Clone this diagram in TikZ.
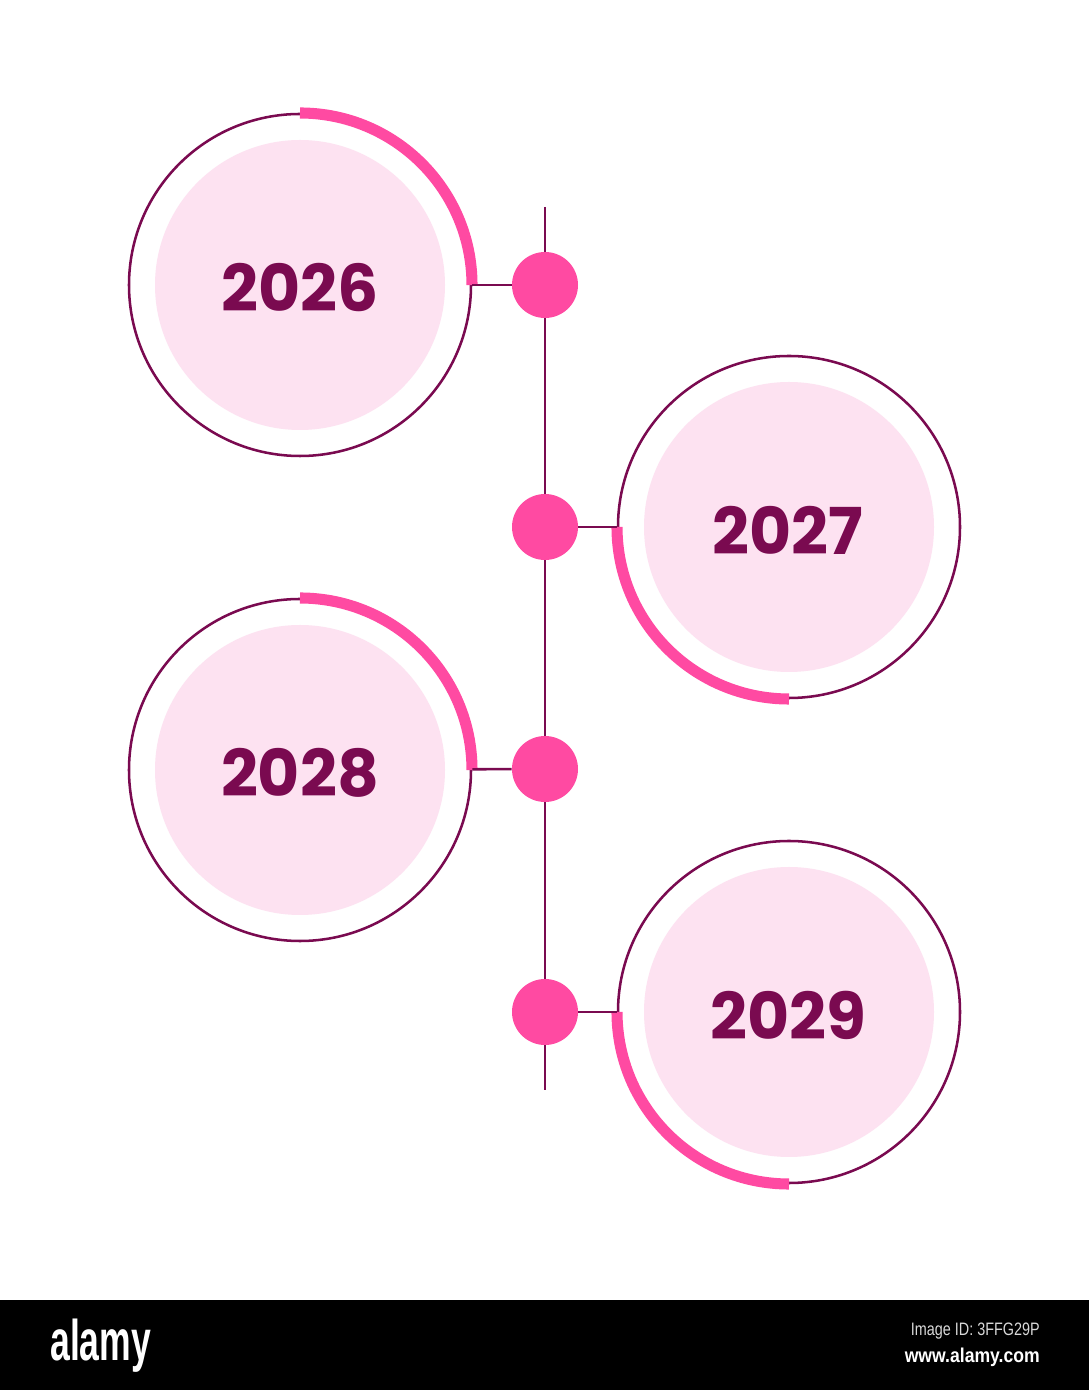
\documentclass[tikz,border=0pt]{standalone}
\usepackage{fontspec}
\setmainfont{Poppins}
\newfontfamily\logofont{Liberation Sans}
\definecolor{plum}{HTML}{7A0A50}
\definecolor{hotpink}{HTML}{FF4AA2}
\definecolor{blush}{HTML}{FDE2F1}
\begin{document}
\begin{tikzpicture}[x=0.75pt,y=0.75pt,
  ring/.style={circle, draw=plum, line width=1.9pt, minimum size=256.5pt, inner sep=0pt},
  disk/.style={circle, fill=blush, minimum size=217.5pt, inner sep=0pt},
  year/.style={text=plum, inner sep=0pt, font=\fontsize{48.5}{48.5}\selectfont\bfseries},
  dot/.style={circle, fill=hotpink, minimum size=49.5pt, inner sep=0pt},
  wire/.style={draw=plum, line width=1.9pt},
  accent/.style={draw=hotpink, line width=8.3pt, line cap=butt}
]
\useasboundingbox (0,0) rectangle (1089,1390);
\fill[white] (0,0) rectangle (1089,1390);

% timeline
\coordinate (top) at (545,1183);
\coordinate (bot) at (545,300);
\draw[wire] (top) -- (bot);

% rings
\node[ring] (r1) at (300,1105) {};
\node[ring] (r2) at (789,863) {};
\node[ring] (r3) at (300,620) {};
\node[ring] (r4) at (789,378) {};

\node[disk] (d1) at (300,1105) {};
\node[disk] (d2) at (789,863) {};
\node[disk] (d3) at (300,620) {};
\node[disk] (d4) at (789,378) {};

\node[year] (y1) at (300,1102) {2026};
\node[year] (y2) at (788,860) {2027};
\node[year] (y3) at (300,617) {2028};
\node[year] (y4) at (788,375) {2029};

% accent arcs
\draw[accent] (r1.center) ++(90:172) arc[start angle=90, end angle=0, radius=172];
\draw[accent] (r2.center) ++(180:172) arc[start angle=180, end angle=270, radius=172];
\draw[accent] (r3.center) ++(90:172) arc[start angle=90, end angle=0, radius=172];
\draw[accent] (r4.center) ++(180:172) arc[start angle=180, end angle=270, radius=172];

% dots
\node[dot] (p1) at (545,1105) {};
\node[dot] (p2) at (545,863) {};
\node[dot] (p3) at (545,621) {};
\node[dot] (p4) at (545,378) {};

% connectors
\draw[wire] (p1) -- (r1);
\draw[wire] (p2) -- (r2);
\draw[wire] (p3) -- (r3);
\draw[wire] (p4) -- (r4);

% bottom bar
\fill[black] (0,0) rectangle (1089,90);
\node[anchor=base west, inner sep=0pt, text=white] (logo) at (50,30)
  {\scalebox{0.62}[1]{\logofont\fontsize{43}{43}\selectfont\bfseries alamy}};
\node[anchor=east, inner sep=0pt, text=white!85!black] (imgid) at (1040,59)
  {\scalebox{0.8}[1]{\logofont\fontsize{13.5}{13.5}\selectfont Image ID: 3FFG29P}};
\node[anchor=east, inner sep=0pt, text=white] (www) at (1040,33)
  {\scalebox{0.88}[1]{\logofont\fontsize{15}{15}\selectfont\bfseries www.alamy.com}};
\end{tikzpicture}
\end{document}
